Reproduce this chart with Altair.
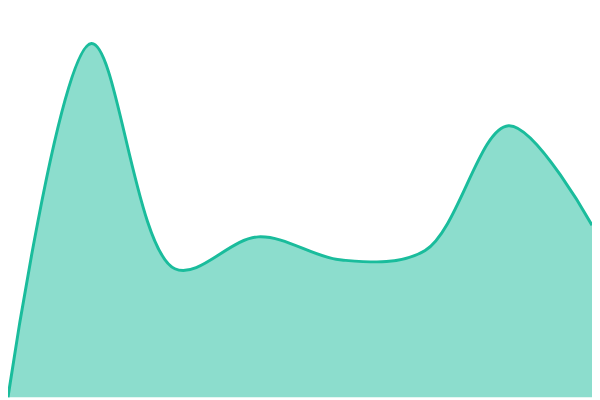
import altair as alt
import pandas as pd

xs = [0, 1, 2, 3, 4, 5, 6, 7]
values = [0, 366, 133, 166, 142, 152, 281, 178]

df = pd.DataFrame({"x": xs, "v": values})

chart = alt.Chart(df).mark_area(
    interpolate="catmull-rom",
    color="#1abc9c",
    fillOpacity=0.5,
    line={"color": "#1abc9c", "strokeWidth": 3},
).encode(
    x=alt.X("x:Q", axis=None, scale=alt.Scale(domain=[0, 7], nice=False, zero=False)),
    y=alt.Y("v:Q", axis=None, scale=alt.Scale(domain=[0, 400], nice=False)),
).properties(
    width=592, height=392, padding=0, autosize=alt.AutoSizeParams(type="none")
).configure_view(stroke=None)

chart.save("out.html", embed_options={"renderer": "svg", "actions": False})
